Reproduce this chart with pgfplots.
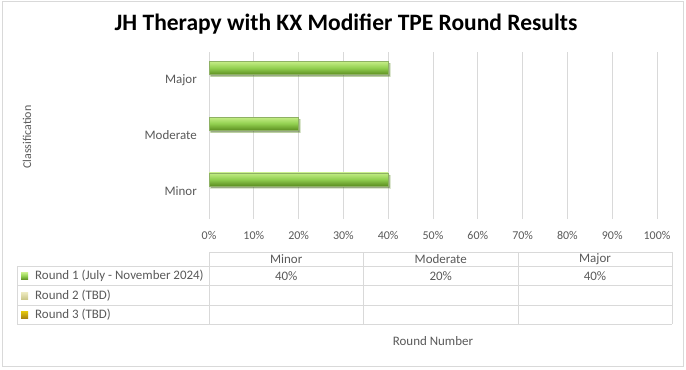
\documentclass[border=0pt]{standalone}
\usepackage{pgfplots}
\pgfplotsset{compat=1.18}
\usetikzlibrary{shadows}
\usepackage{fontspec}
\setmainfont{Carlito}
\definecolor{txt}{HTML}{595959}
\definecolor{gridc}{HTML}{D9D9D9}
\definecolor{gA}{HTML}{C6EE88}
\definecolor{gB}{HTML}{92D050}
\definecolor{gC}{HTML}{5E9022}
\definecolor{k2}{HTML}{E3DE9A}
\definecolor{k3}{HTML}{D4A514}
\begin{document}
\begin{tikzpicture}[x=1bp,y=-1bp]
\path (0,0) rectangle (686,369);
\draw[gridc] (2.5,1.5) rectangle (683.5,366);
\node[font=\fontsize{23.6}{26}\selectfont\bfseries] at (346,24) {JH Therapy with KX Modifier TPE Round Results};
\begin{axis}[
  at={(209bp,-219bp)}, anchor=south west,
  scale only axis, width=448bp, height=167bp,
  xmin=0, xmax=100, ymin=-0.5, ymax=2.5,
  xtick={0,10,...,100},
  xticklabels={0\%,10\%,20\%,30\%,40\%,50\%,60\%,70\%,80\%,90\%,100\%},
  ytick={0,1,2}, yticklabels={Minor,Moderate,Major},
  axis line style={draw=none},
  major tick length=0pt,
  xmajorgrids, major x grid style={gridc, line width=0.8pt},
  xticklabel style={font=\fontsize{12}{14}\selectfont, text=txt, anchor=base, inner sep=0pt, yshift=-20bp},
  yticklabel style={font=\fontsize{13}{15}\selectfont, text=txt, anchor=east, inner sep=0pt, xshift=-12bp},
  barstyle/.style={xbar, bar width=13bp, bar shift=12bp, draw=gC!70, line width=0.3pt,
    top color=gA, bottom color=gC, middle color=gB,
    drop shadow={shadow xshift=1.5bp, shadow yshift=-2bp, opacity=0.3, fill=black}},
]
\addplot[barstyle] coordinates {(40,0)};
\addplot[barstyle] coordinates {(20,1)};
\addplot[barstyle] coordinates {(40,2)};
\end{axis}
% table
\begin{scope}[gridc, line width=0.8pt]
\draw (209,252) -- (672,252);
\foreach \yy in {266,285.7,305,324.3} \draw (17,\yy) -- (672,\yy);
\draw (17,266) -- (17,324.3);
\foreach \xx in {209,363.5,518,672} \draw (\xx,252) -- (\xx,324.3);
\end{scope}
\begin{scope}[font=\fontsize{13}{15}\selectfont, text=txt]
\node at (286.25,259) {Minor};
\node at (440.75,259) {Moderate};
\node at (595,259) {Major};
\node at (286.25,276) {40\%};
\node at (440.75,276) {20\%};
\node at (595,276) {40\%};
\node[anchor=west, inner sep=0pt] at (35,276) {Round 1 (July - November 2024)};
\node[anchor=west, inner sep=0pt] at (35,295.5) {Round 2 (TBD)};
\node[anchor=west, inner sep=0pt] at (35,314.7) {Round 3 (TBD)};
\node at (433,341.5) {Round Number};
\node[rotate=90, font=\fontsize{12}{14}\selectfont] at (27,137) {Classification};
\end{scope}
\shade[top color=gA, bottom color=gC, middle color=gB] (21,272.5) rectangle (28,279.5);
\shade[top color=k2!60, bottom color=k2!90!black] (21,292) rectangle (28,299);
\shade[top color=k3!60!yellow, bottom color=k3!80!black] (21,311.2) rectangle (28,318.2);
\end{tikzpicture}
\end{document}
